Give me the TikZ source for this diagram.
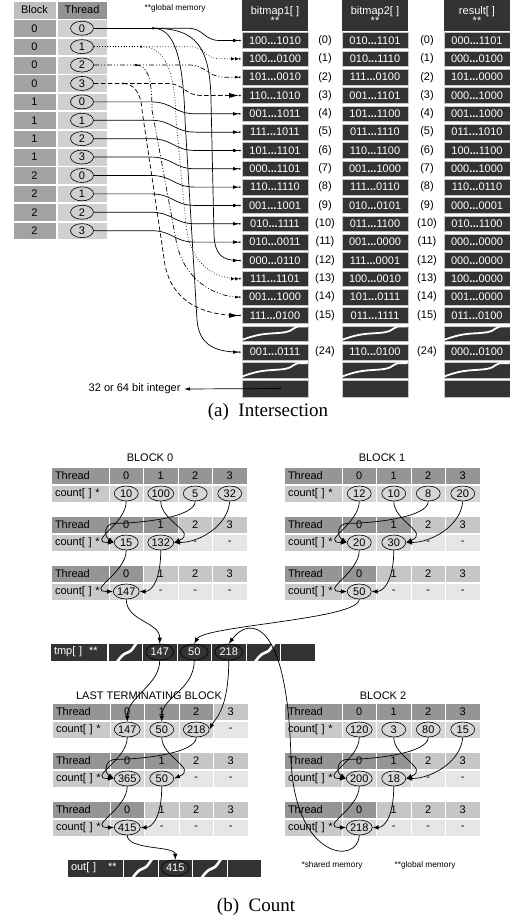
\documentclass[tikz,border=0pt]{standalone}
\usepackage{fontspec}
\setmainfont{Liberation Sans}
\newfontfamily\capfont{Liberation Serif}
\usetikzlibrary{arrows.meta,shapes.geometric}
\definecolor{bdark}{HTML}{333333}
\definecolor{blkc}{HTML}{A3A3A3}
\definecolor{thrc}{HTML}{D0D0D0}
\definecolor{blkh}{HTML}{BEBEBE}
\definecolor{thrh}{HTML}{939393}
\definecolor{tdark}{HTML}{959595}
\definecolor{tlight}{HTML}{C6C6C6}
\definecolor{clab}{HTML}{C9C9C9}
\definecolor{cval}{HTML}{D6D6D6}
\definecolor{cnone}{HTML}{E6E6E6}
\newcommand\mydots{\textbf{...}}
\newcommand\fsmall{\fontsize{8.3}{10}\selectfont}
\newcommand\fcap{\capfont\fontsize{19}{22}\selectfont}
\newcommand\tabrow[8]{%
  \node[lcell,fill=tdark] (#1T) at (#2+29,#3+8.5) {Thread};
  \node[lcell,fill=clab] (#1C) at (#2+29,#3+26.5) {count[ ] *};
  \foreach \cx/\vx in {0/#5,1/#6,2/#7,3/#8}{%
    \ifnum\cx<#4\relax
      \node[vcell,fill=tdark] (#1h\cx) at (#2+75.25+34.5*\cx,#3+8.5) {\cx};
      \node[vcell,fill=cval] (#1k\cx) at (#2+75.25+34.5*\cx,#3+26.5) {};
      \node[vov] (#1v\cx) at (#1k\cx) {\vx};
    \else
      \node[vcell,fill=tlight] (#1h\cx) at (#2+75.25+34.5*\cx,#3+8.5) {\cx};
      \node[vcell,fill=cnone] (#1k\cx) at (#2+75.25+34.5*\cx,#3+26.5) {-};
    \fi}}
\newcommand\bsq[1]{\begin{scope}[shift={(#1.north west)},x=66pt,y=-15.5pt]
  \draw[white,line width=1.8pt] (0,0.92) .. controls (0.15,0.7) and (0.25,0.55) .. (0.45,0.5) .. controls (0.65,0.45) and (0.72,0.42) .. (0.78,0.2) .. controls (0.82,0.05) .. (1,0.05);
  \end{scope}}
\newcommand\msq[1]{\begin{scope}[shift={(#1.north west)},x=34.5pt,y=-18pt]
  \draw[white,line width=2.6pt] (0.28,1.06) .. controls (0.38,0.8) and (0.45,0.62) .. (0.58,0.55) .. controls (0.72,0.48) and (0.75,0.2) .. (0.88,-0.06);
  \end{scope}}
\begin{document}
\begin{tikzpicture}[x=1pt,y=-1pt,font=\fontsize{11}{13}\selectfont,
  cellA/.style={rectangle,inner sep=0,minimum height=17.5,draw=white,line width=0.6pt},
  tov/.style={ellipse,draw=black,line width=0.6pt,fill=thrc,inner sep=0,minimum width=23,minimum height=14},
  bmc/.style={rectangle,fill=bdark,draw=gray!45,line width=0.7pt,minimum width=66,minimum height=15.5,inner sep=0,text=white},
  bmh/.style={rectangle,fill=bdark,minimum width=66,minimum height=31,inner sep=0,text=white,align=center},
  conn/.style={line width=0.7pt,shorten >=1pt},
  tipA/.style={-{Latex[length=6pt,width=3.6pt]Circle[length=1.6pt]}},
  tipD/.style={-{Latex[length=4pt,width=3.6pt]Latex[length=4pt,width=3.6pt]Circle[length=1.6pt]}},
  tipS/.style={-{Latex[length=4pt,width=3pt]Circle[length=1.6pt]}},
  tipB/.style={-{Latex[length=10pt,width=5pt]Circle[length=1.6pt]}},
  dashdd/.style={dash pattern=on 5pt off 2pt on 1pt off 2pt on 1pt off 2pt},
  dsh/.style={dash pattern=on 4.5pt off 2.5pt},
  lcell/.style={rectangle,inner ysep=0,inner xsep=4pt,text width=50pt,align=left,minimum height=17,draw=white,line width=0.7pt},
  vcell/.style={rectangle,inner sep=0,minimum width=34.5,minimum height=17,draw=white,line width=0.7pt},
  vov/.style={ellipse,draw=black,line width=0.6pt,fill=cval,inner sep=0,minimum width=24,minimum height=15},
  mcell/.style={rectangle,fill=bdark,draw=white,line width=0.8pt,minimum width=34.5,minimum height=18,inner sep=0},
  mlab/.style={rectangle,fill=bdark,draw=white,line width=0.8pt,text=white,minimum height=18,inner ysep=0,inner xsep=4pt,text width=49pt,align=left},
  mov/.style={ellipse,draw=black,line width=0.6pt,fill=bdark,text=white,inner sep=0,minimum width=28,minimum height=16},
  rarr/.style={line width=0.7pt,-{Latex[length=6pt,width=4.5pt]}},
  titl/.style={font=\fontsize{11}{13}\selectfont}]
\useasboundingbox (0,0) rectangle (510,921);
% ---------- (a) left table
\node[cellA,fill=blkh,minimum width=43,minimum height=18] (hB) at (34.5,10) {Block};
\node[cellA,fill=thrh,minimum width=50,minimum height=18] (hT) at (82,10) {Thread};
\foreach \i in {0,...,11}{
  \pgfmathtruncatemacro\bn{\i/4}
  \pgfmathtruncatemacro\tn{mod(\i,4)}
  \node[cellA,fill=blkc,minimum width=43] (bk\i) at (34.5,28.25+18.4*\i) {\bn};
  \node[cellA,fill=thrc,minimum width=50] (tc\i) at (82,28.25+18.4*\i) {};
  \node[tov] (t\i) at (tc\i) {\tn};
}
\node[font=\fsmall] (gm) at (175,8) {**global memory};
% ---------- (a) bitmaps
\node[bmh] (h1) at (275,15.5) {bitmap1[ ]\\[-3pt]**};
\node[bmh] (h2) at (375,15.5) {bitmap2[ ]\\[-3pt]**};
\node[bmh] (h3) at (477,15.5) {result[ ]\\[-3pt]**};
\foreach \k/\r/\pa/\pb/\pc in {
 0/0/100\mydots1010/010\mydots1101/000\mydots1101,
 1/1/100\mydots0100/010\mydots1110/000\mydots0100,
 2/2/101\mydots0010/111\mydots0100/101\mydots0000,
 3/3/110\mydots1010/001\mydots1101/000\mydots1000,
 4/4/001\mydots1011/101\mydots1100/001\mydots1000,
 5/5/111\mydots1011/011\mydots1110/011\mydots1010,
 6/6/101\mydots1101/110\mydots1100/100\mydots1100,
 7/7/000\mydots1101/001\mydots1000/000\mydots1000,
 8/8/110\mydots1110/111\mydots0110/110\mydots0110,
 9/9/001\mydots1001/010\mydots0101/000\mydots0001,
 10/10/010\mydots1111/011\mydots1100/010\mydots1100,
 11/11/010\mydots0011/001\mydots0000/000\mydots0000,
 12/12/000\mydots0110/111\mydots0001/000\mydots0000,
 13/13/111\mydots1101/100\mydots0010/100\mydots0000,
 14/14/001\mydots1000/101\mydots0111/001\mydots0000,
 15/15/111\mydots0100/011\mydots1111/011\mydots0100,
 17/24/001\mydots0111/110\mydots0100/000\mydots0100}{
  \node[bmc] (a\r) at (275,40.5+18.33*\k) {\pa};
  \node[bmc] (b\r) at (375,40.5+18.33*\k) {\pb};
  \node[bmc] (c\r) at (477,40.5+18.33*\k) {\pc};
  \node (ia\r) at (325,40.5+18.33*\k) {(\r)};
  \node (ib\r) at (427,40.5+18.33*\k) {(\r)};
}
\foreach \k/\s in {16/S1,18/S2}{
  \node[bmc] (a\s) at (275,40.5+18.33*\k) {};
  \node[bmc] (b\s) at (375,40.5+18.33*\k) {};
  \node[bmc] (c\s) at (477,40.5+18.33*\k) {};
}
\node[bmc,minimum height=17] (aE) at (275,388.5) {};
\node[bmc,minimum height=17] (bE) at (375,388.5) {};
\node[bmc,minimum height=17] (cE) at (477,388.5) {};
\bsq{aS1}\bsq{bS1}\bsq{cS1}\bsq{aS2}\bsq{bS2}\bsq{cS2}
% ---------- (a) connectors
\foreach \i in {4,...,11}
  \draw[conn,tipA] (t\i.east) -- ++(57,0) .. controls +(22,0) and +(-22,0) .. ([xshift=-46pt]a\i.west) -- (a\i.west);
% thread 0
\coordinate (d0) at (153,28.25);
\draw[conn,shorten >=0pt] (t0.east) -- (d0);
\fill (d0) circle (1.3);
\draw[conn,tipA] (d0) -- ++(35,0) .. controls +(16,0) and +(-16,0) .. ([xshift=-22pt]a0.west) -- (a0.west);
\draw[conn,tipA] (d0) .. controls (195,28.25) and (210,45) .. (211,100) -- (214,235) .. controls (215,255) and (222,260.5) .. (a12.west);
\draw[conn,tipA] (d0) .. controls (172,28.25) and (183,50) .. (185,120) -- (197,320) .. controls (199,345) and (215,352) .. (a24.west);
% thread 1
\coordinate (d1) at (141,46.65);
\draw[conn,dotted,shorten >=0pt] (t1.east) -- (d1);
\fill (d1) circle (1.2);
\draw[conn,dotted,tipD] (d1) -- ++(49,0) .. controls +(15,0) and +(-15,0) .. ([xshift=-22pt]a1.west) -- (a1.west);
\draw[conn,dotted,tipD] (d1) .. controls (165,46.65) and (175,70) .. (176,120) -- (186,225) .. controls (190,265) and (215,278.8) .. (a13.west);
% thread 2
\coordinate (d2) at (136,65.05);
\draw[conn,dashdd,shorten >=0pt] (t2.east) -- (d2);
\fill (d2) circle (1.2);
\draw[conn,dashdd,tipS] (d2) -- ++(54,0) .. controls +(15,0) and +(-15,0) .. ([xshift=-18pt]a2.west) -- (a2.west);
\draw[conn,dashdd,tipS] (d2) .. controls (148,65.05) and (152,80) .. (152,110) -- (176,240) .. controls (183,280) and (215,297.1) .. (a14.west);
% thread 3
\coordinate (d3) at (123,83.45);
\draw[conn,dsh,shorten >=0pt] (t3.east) -- (d3);
\fill (d3) circle (1.2);
\draw[conn,dsh,tipB] (d3) -- ++(44,0) .. controls +(18,0) and +(-18,0) .. ([xshift=-40pt]a3.west) -- (a3.west);
\draw[conn,dsh,tipB] (d3) .. controls (133,83.45) and (141,92) .. (142,110) -- (165,265) .. controls (172,300) and (200,315.5) .. (a15.west);
% integer
\node[anchor=east] (intl) at (184,389) {32 or 64 bit integer};
\coordinate (ip) at ([xshift=5pt]aE.center);
\fill (ip) circle (1.2);
\draw[line width=0.7pt,-{Latex[length=6pt,width=3.6pt]}] (ip) -- (intl.east);
\node[font=\fcap] (capa) at (268,412) {(a)\enspace Intersection};
% ---------- (b) tables
\node[titl] (ttl0) at (150,458) {BLOCK 0};
\node[titl] (ttl1) at (382,458) {BLOCK 1};
\node[titl] (ttlL) at (149,696) {LAST TERMINATING BLOCK};
\node[titl] (ttl2) at (383,696) {BLOCK 2};
\tabrow{A1}{51}{467}{4}{10}{100}{5}{32}
\tabrow{A2}{51}{516}{2}{15}{132}{}{}
\tabrow{A3}{51}{565}{1}{147}{}{}{}
\tabrow{B1}{284}{467}{4}{12}{10}{8}{20}
\tabrow{B2}{284}{516}{2}{20}{30}{}{}
\tabrow{B3}{284}{565}{1}{50}{}{}{}
\tabrow{L1}{52}{703}{3}{147}{50}{218}{}
\tabrow{L2}{52}{752}{2}{365}{50}{}{}
\tabrow{L3}{52}{801}{1}{415}{}{}{}
\tabrow{C1}{284}{703}{4}{120}{3}{80}{15}
\tabrow{C2}{284}{752}{2}{200}{18}{}{}
\tabrow{C3}{284}{801}{1}{218}{}{}{}
% tmp bar
\node[mlab,minimum width=57] (mL) at (78.5,652) {tmp[ ]\hspace{7pt}**};
\foreach \k/\nm in {0/mS1,1/m147,2/m50,3/m218,4/mS2,5/mE}
  \node[mcell] (\nm) at (125.25+34.5*\k,652) {};
\node[mov] (e147) at (m147) {147};
\node[mov] (e50) at (m50) {50};
\node[mov] (e218) at (m218) {218};
\msq{mS1}\msq{mS2}
% out bar
\node[mlab,minimum width=56,text width=48pt] (oL) at (95,868) {out[ ]\hspace{12pt}**};
\foreach \k/\nm in {0/oS1,1/o415,2/oS2,3/oE}
  \node[mcell] (\nm) at (140.75+34.5*\k,868) {};
\node[mov] (eo) at (o415) {415};
\msq{oS1}\msq{oS2}
\node[font=\fsmall] (fn1) at (332,865) {*shared memory};
\node[font=\fsmall] (fn2) at (425,865) {**global memory};
\node[font=\fcap] (capb) at (256,907) {(b)\enspace Count};
% ---------- (b) connectors
\foreach \P in {A,B,C,L}{
  \draw[rarr] (\P1v0.south) .. controls +(0,23) and +(-28,0) .. (\P2v0.west);
  \draw[rarr] (\P1v2.south) .. controls +(0,16) and +(25,0) .. ++(-80,22) .. controls +(-12,0) and +(-10,-6) .. (\P2v0.west);
  \draw[rarr] (\P1v1.south) .. controls +(0,20) and +(24,-10) .. (\P2v1.east);
  \draw[rarr] (\P2v0.south) .. controls +(0,23) and +(-28,0) .. (\P3v0.west);
  \draw[rarr] (\P2v1.south) .. controls +(0,30) and +(12,0) .. (\P3v0.east);
}
\foreach \P in {A,B,C}
  \draw[rarr] (\P1v3.south) .. controls +(-2,25) and +(25,0) .. (\P2v1.east);
\draw[rarr] (A3v0.south) .. controls +(0,22) and +(0,-22) .. (e147.north);
\draw[rarr] (B3v0.south) .. controls +(0,20) and +(10,-18) .. (e50.north);
\draw[rarr] (C3v0.south) .. controls (358,865) and (295,860) .. (291,760) .. controls (288,620) and (250,615) .. (e218.north);
\draw[rarr] (e147.south) .. controls +(0,25) and +(0,-25) .. (L1v0.north);
\draw[rarr] (e50.south) .. controls +(0,30) and +(0,-25) .. (L1v1.north);
\draw[rarr] (e218.south) .. controls +(0,50) and +(5,-10) .. (L1v2.east);
\draw[rarr] (L3v0.south) .. controls +(0,15) and +(0,-14) .. (eo.north);
\end{tikzpicture}
\end{document}
